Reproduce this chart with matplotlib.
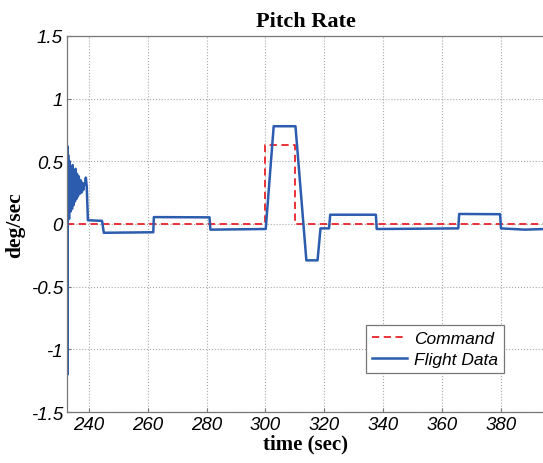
import numpy as np
import matplotlib as mpl
mpl.use('Agg')
import matplotlib.pyplot as plt

# commanded pitch rate (deg/sec)
cmd_t = [232.6, 299.9, 299.9, 310.2, 310.2, 395.0]
cmd_q = [0.0, 0.0, 0.63, 0.63, 0.0, 0.0]

# measured pitch rate from flight (deg/sec)
fd_t = [232.70, 232.75, 232.80, 232.85, 233.00, 233.30, 233.50, 233.80, 234.00, 234.30,
        234.50, 234.80, 235.00, 235.30, 235.50, 235.80, 236.00, 236.30, 236.60, 236.90,
        237.20, 237.50, 237.80, 238.10, 238.40, 238.70, 239.00, 239.30, 239.70, 244.50,
        245.10, 261.90, 262.10, 281.00, 281.30, 300.10, 302.80, 310.20, 313.90, 317.70,
        318.70, 321.60, 322.00, 337.50, 337.80, 350.00, 365.50, 365.80, 379.70, 380.00,
        388.00, 395.00]
fd_q = [0.05, 0.62, -1.20, 0.10, 0.55, 0.04, 0.50, 0.10, 0.46, 0.12,
        0.47, 0.15, 0.42, 0.18, 0.44, 0.20, 0.40, 0.22, 0.38, 0.24,
        0.35, 0.25, 0.33, 0.27, 0.31, 0.32, 0.37, 0.30, 0.03, 0.025,
        -0.07, -0.066, 0.055, 0.053, -0.045, -0.04, 0.78, 0.78, -0.29, -0.29,
        -0.035, -0.035, 0.074, 0.074, -0.04, -0.038, -0.035, 0.08, 0.078, -0.035,
        -0.045, -0.04]

xticks = [240, 260, 280, 300, 320, 340, 360, 380]
yticks = [-1.5, -1, -0.5, 0, 0.5, 1, 1.5]
ytick_labels = ['-1.5', '-1', '-0.5', '0', '0.5', '1', '1.5']

fig = plt.figure(figsize=(5.43, 4.64), dpi=100)
ax = fig.add_axes([0.1234, 0.1099, 0.8800, 0.8104])

ax.plot(cmd_t, cmd_q, '--', color='#E8222A', lw=1.3, dashes=(4, 2.5), label='Command')
ax.plot(fd_t, fd_q, '-', color='#2B5CAE', lw=1.8, label='Flight Data')

ax.set_xlim(232.6, 394.9)
ax.set_ylim(-1.5, 1.5)
ax.set_xticks(xticks)
ax.set_yticks(yticks)
ax.set_yticklabels(ytick_labels)
ax.grid(True, linestyle=':', color='#A8A8A8', lw=0.8)

tick_font = dict(family='Liberation Sans', style='italic', size=13.5)
for lbl in ax.get_xticklabels() + ax.get_yticklabels():
    lbl.set_fontproperties(mpl.font_manager.FontProperties(**tick_font))
ax.tick_params(direction='in', length=3, color='#777777', pad=3)
for s in ax.spines.values():
    s.set_color('#777777')
    s.set_linewidth(0.9)

serif = dict(family='Liberation Serif', weight='bold')
ax.set_title('Pitch Rate', fontsize=16, pad=7, **serif)
ax.set_xlabel('time (sec)', fontsize=15, labelpad=0, **serif)
ax.set_ylabel('deg/sec', fontsize=15.5, labelpad=4, **serif)

leg = ax.legend(loc='lower right', bbox_to_anchor=(0.915, 0.104), borderaxespad=0,
                prop=mpl.font_manager.FontProperties(family='Liberation Sans', style='italic', size=12.5),
                fancybox=False, framealpha=1, edgecolor='#777777',
                handlelength=2.0, handletextpad=0.4, borderpad=0.35, labelspacing=0.3)
leg.get_frame().set_linewidth(0.9)

fig.savefig('out.png', dpi=100)
